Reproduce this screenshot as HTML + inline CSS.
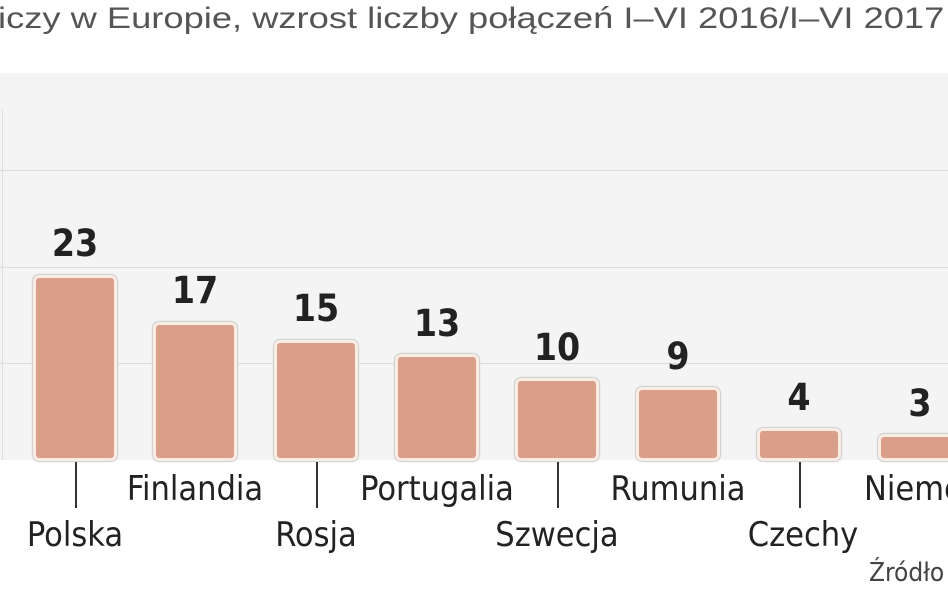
<!DOCTYPE html>
<html><head><meta charset="utf-8"><style>
body{margin:0;width:948px;height:593px;background:#fff;position:relative;overflow:hidden;font-family:"Liberation Sans","DejaVu Sans",sans-serif}
.t{position:absolute;left:-2px;top:2px;font-size:30px;color:#555;white-space:nowrap;transform-origin:0 0;transform:scaleX(1.21)}
.plot{position:absolute;left:0;top:73px;width:948px;height:387px;background:#f4f4f4}
.g{position:absolute;left:0;width:948px;height:1px;background:#dcdcdc}
.b{position:absolute;background:#d99f88;border:3px solid #fbece4;border-radius:6px;box-shadow:0 0 1px 1px #ccc;box-sizing:border-box}
.v{position:absolute;width:120px;text-align:center;font-family:"DejaVu Sans Condensed","Liberation Sans",sans-serif;font-weight:bold;font-size:37px;color:#222}
.l{position:absolute;width:220px;text-align:center;font-size:34px;color:#222;font-family:"DejaVu Sans Condensed","Liberation Sans",sans-serif}
.k{position:absolute;width:2px;background:#333;top:462px;height:46px}
</style></head><body>
<div class="t">iczy w Europie, wzrost liczby połączeń I–VI 2016/I–VI 2017</div>
<div class="plot">
<div class="g" style="top:97px"></div>
<div class="g" style="top:194px"></div>
<div class="g" style="top:290px"></div>
<div style="position:absolute;left:2px;top:37px;width:1px;height:350px;background:#ddd"></div>
</div>
<div class="b" style="left:33px;top:275px;width:84px;height:186px"></div>
<div class="b" style="left:153px;top:322px;width:84px;height:139px"></div>
<div class="b" style="left:274px;top:340px;width:84px;height:121px"></div>
<div class="b" style="left:395px;top:354px;width:84px;height:107px"></div>
<div class="b" style="left:515px;top:378px;width:84px;height:83px"></div>
<div class="b" style="left:636px;top:387px;width:84px;height:74px"></div>
<div class="b" style="left:757px;top:428px;width:84px;height:33px"></div>
<div class="b" style="left:878px;top:434px;width:84px;height:27px"></div>
<div class="v" style="left:15px;top:222px">23</div>
<div class="v" style="left:135px;top:269px">17</div>
<div class="v" style="left:256px;top:287px">15</div>
<div class="v" style="left:377px;top:302px">13</div>
<div class="v" style="left:497px;top:326px">10</div>
<div class="v" style="left:618px;top:335px">9</div>
<div class="v" style="left:739px;top:376px">4</div>
<div class="v" style="left:860px;top:382px">3</div>
<div class="k" style="left:75px"></div>
<div class="k" style="left:316px"></div>
<div class="k" style="left:557px"></div>
<div class="k" style="left:799px"></div>
<div class="l" style="left:-35px;top:515px">Polska</div>
<div class="l" style="left:85px;top:469px">Finlandia</div>
<div class="l" style="left:206px;top:515px">Rosja</div>
<div class="l" style="left:327px;top:469px">Portugalia</div>
<div class="l" style="left:447px;top:515px">Szwecja</div>
<div class="l" style="left:568px;top:469px">Rumunia</div>
<div class="l" style="left:693px;top:515px">Czechy</div>
<div class="l" style="left:864px;top:469px;text-align:left">Niemcy</div>
<div style="position:absolute;left:869px;top:558px;font-size:26px;color:#444;font-family:'DejaVu Sans Condensed',sans-serif">Źródło</div>
</body></html>
